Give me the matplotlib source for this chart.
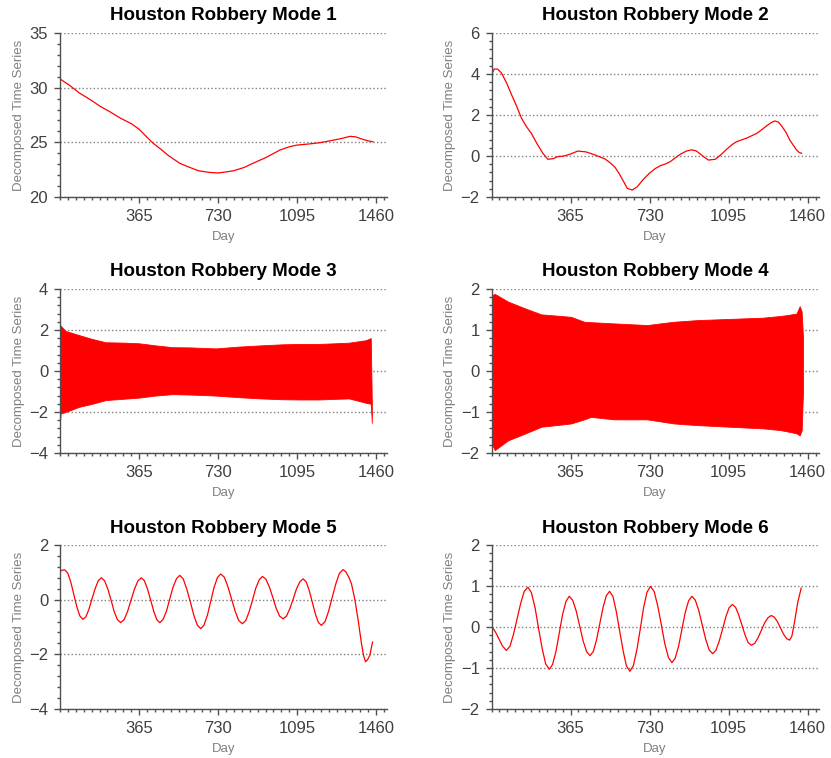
import numpy as np
import matplotlib.pyplot as plt
from matplotlib.ticker import MultipleLocator

plt.rcParams['font.family'] = ['Liberation Sans', 'DejaVu Sans']

# mode 1 - trend
days1 = [0, 45, 90, 140, 185, 230, 280, 330, 365, 400, 431, 470, 500, 554, 600, 640, 690, 730, 770, 801,
         850, 893, 950, 1016, 1060, 1095, 1150, 1201, 1250, 1300, 1340, 1365, 1394, 1420, 1445]
vals1 = [30.8, 30.2, 29.5, 28.9, 28.3, 27.8, 27.2, 26.7, 26.2, 25.5, 24.9, 24.3, 23.8, 23.07, 22.7, 22.4,
         22.25, 22.2, 22.3, 22.4, 22.7, 23.1, 23.6, 24.3, 24.6, 24.75, 24.85, 24.97, 25.15, 25.35, 25.55,
         25.5, 25.3, 25.15, 25.05]

# mode 2
days2 = [0, 12, 28, 46, 70, 92, 115, 138, 160, 184, 210, 237, 260, 285, 306, 335, 363, 398, 436, 470, 497,
         525, 551, 570, 589, 610, 627, 650, 673, 700, 728, 755, 780, 805, 826, 850, 872, 900, 923, 945, 964,
         985, 1002, 1033, 1060, 1086, 1110, 1132, 1180, 1224, 1250, 1270, 1290, 1308, 1325, 1339, 1360,
         1377, 1395, 1408, 1420, 1431]
vals2 = [3.96, 4.24, 4.24, 4.05, 3.55, 3.0, 2.45, 1.85, 1.45, 1.1, 0.6, 0.13, -0.16, -0.13, -0.03, 0.0,
         0.09, 0.24, 0.2, 0.08, -0.03, -0.15, -0.36, -0.55, -0.85, -1.25, -1.58, -1.66, -1.5, -1.15, -0.85,
         -0.62, -0.47, -0.38, -0.27, -0.08, 0.09, 0.24, 0.3, 0.25, 0.1, -0.08, -0.2, -0.16, 0.07, 0.33, 0.55,
         0.7, 0.88, 1.1, 1.3, 1.47, 1.62, 1.71, 1.65, 1.47, 1.15, 0.78, 0.5, 0.3, 0.18, 0.13]

# modes 3 and 4 oscillate every couple of days, keep their upper / lower envelopes
days3 = [0, 3, 26, 88, 149, 211, 300, 365, 440, 519, 600, 719, 827, 930, 1027, 1110, 1197, 1270, 1335,
         1412, 1435, 1440]
hi3 = [2.24, 2.2, 1.95, 1.75, 1.56, 1.4, 1.38, 1.35, 1.25, 1.16, 1.15, 1.1, 1.19, 1.25, 1.3, 1.32, 1.32,
       1.35, 1.38, 1.5, 1.6, -1.6]
lo3 = [-2.5, -2.07, -2.0, -1.75, -1.6, -1.42, -1.35, -1.3, -1.2, -1.13, -1.15, -1.2, -1.28, -1.34, -1.38,
       -1.39, -1.39, -1.36, -1.34, -1.55, -1.6, -2.53]

days4 = [0, 3, 15, 77, 153, 230, 300, 367, 428, 459, 566, 719, 842, 949, 1102, 1255, 1331, 1362, 1408,
         1423, 1432, 1438]
hi4 = [1.3, 1.85, 1.88, 1.69, 1.53, 1.38, 1.35, 1.32, 1.2, 1.19, 1.16, 1.12, 1.2, 1.24, 1.27, 1.3, 1.34,
       1.36, 1.4, 1.58, 1.45, 0.85]
lo4 = [-0.5, -1.8, -1.93, -1.69, -1.53, -1.36, -1.32, -1.28, -1.18, -1.12, -1.18, -1.18, -1.28, -1.32,
       -1.36, -1.4, -1.44, -1.47, -1.52, -1.57, -1.45, -0.55]

# mode 5
days5 = [0, 10, 22, 36, 50, 64, 78, 92, 106, 120, 134, 148, 163, 177, 191, 206, 221, 236, 250, 265, 280,
         296, 312, 328, 344, 360, 376, 390, 404, 419, 433, 447, 461, 476, 492, 507, 522, 538, 553, 569, 585,
         602, 618, 634, 650, 665, 681, 696, 711, 727, 742, 759, 775, 792, 809, 825, 842, 858, 873, 889, 904,
         920, 935, 951, 967, 983, 998, 1014, 1030, 1046, 1061, 1077, 1092, 1108, 1123, 1137, 1151, 1165,
         1179, 1193, 1207, 1224, 1240, 1257, 1274, 1290, 1307, 1320, 1335, 1346, 1361, 1377, 1392, 1402,
         1411, 1420, 1431, 1443]
vals5 = [1.03, 1.08, 1.09, 0.97, 0.64, 0.185, -0.27, -0.6, -0.72, -0.62, -0.34, 0.04, 0.42, 0.7, 0.8,
         0.69, 0.39, -0.02, -0.43, -0.73, -0.84, -0.73, -0.43, -0.02, 0.39, 0.69, 0.8, 0.69, 0.39, -0.02,
         -0.43, -0.73, -0.84, -0.72, -0.41, 0.03, 0.46, 0.77, 0.89, 0.76, 0.4, -0.085, -0.57, -0.93, -1.06,
         -0.93, -0.56, -0.06, 0.44, 0.81, 0.94, 0.82, 0.485, 0.03, -0.425, -0.76, -0.88, -0.76, -0.45,
         -0.015, 0.42, 0.73, 0.85, 0.75, 0.46, 0.075, -0.31, -0.6, -0.7, -0.6, -0.335, 0.03, 0.395, 0.66,
         0.76, 0.65, 0.335, -0.09, -0.515, -0.83, -0.94, -0.8, -0.43, 0.08, 0.59, 0.96, 1.1, 1.02, 0.8,
         0.58, 0.03, -0.76, -1.6, -2.05, -2.27, -2.2, -2.03, -1.55]

# mode 6
days6 = [0, 11, 22, 35, 50, 68, 85, 101, 118, 135, 151, 168, 184, 201, 217, 234, 250, 267, 282, 298, 313,
         328, 344, 359, 375, 391, 407, 423, 439, 455, 470, 485, 500, 515, 530, 545, 561, 576, 592, 608, 623,
         639, 655, 671, 687, 702, 718, 734, 751, 767, 784, 800, 817, 833, 848, 864, 879, 894, 910, 925, 941,
         957, 973, 989, 1005, 1021, 1036, 1051, 1067, 1082, 1097, 1112, 1127, 1141, 1156, 1171, 1185, 1200,
         1215, 1231, 1246, 1261, 1277, 1292, 1306, 1320, 1334, 1348, 1362, 1376, 1387, 1399, 1414, 1430]
vals6 = [0.0, -0.06, -0.16, -0.3, -0.46, -0.57, -0.47, -0.185, 0.2, 0.585, 0.87, 0.97, 0.84, 0.47, -0.03,
         -0.53, -0.9, -1.03, -0.91, -0.585, -0.14, 0.305, 0.63, 0.75, 0.65, 0.39, 0.025, -0.34, -0.6, -0.7,
         -0.595, -0.31, 0.085, 0.48, 0.765, 0.87, 0.74, 0.38, -0.105, -0.59, -0.95, -1.08, -0.94, -0.56,
         -0.045, 0.47, 0.85, 0.99, 0.865, 0.525, 0.06, -0.405, -0.745, -0.87, -0.76, -0.465, -0.06, 0.345,
         0.64, 0.75, 0.655, 0.4, 0.05, -0.3, -0.56, -0.65, -0.57, -0.35, -0.05, 0.25, 0.47, 0.55, 0.48, 0.3,
         0.05, -0.2, -0.38, -0.445, -0.4, -0.26, -0.08, 0.1, 0.23, 0.28, 0.24, 0.13, -0.02, -0.17, -0.28,
         -0.32, -0.22, 0.12, 0.6, 0.95]

titles = ['Houston Robbery Mode %d' % i for i in range(1, 7)]
ylims = [(20, 35), (-2, 6), (-4, 4), (-2, 2), (-4, 2), (-2, 2)]
ysteps = [5, 2, 2, 1, 2, 1]
xticks = [365, 730, 1095, 1460]

fig = plt.figure(figsize=(8.31, 7.58), dpi=100)
lefts = [0.0722, 0.5915]
bottoms = [0.7401, 0.4024, 0.0646]
w = 0.3935
h = 0.2164

axes = []
for i in range(6):
    ax = fig.add_axes([lefts[i % 2], bottoms[i // 2], w, h])
    axes.append(ax)

axes[0].plot(days1, vals1, color='red', lw=0.9)
axes[1].plot(days2, vals2, color='red', lw=0.9)
axes[2].fill_between(days3, lo3, hi3, color='red', lw=0.6, edgecolor='red')
axes[3].fill_between(days4, lo4, hi4, color='red', lw=0.6, edgecolor='red')
axes[4].plot(days5, vals5, color='red', lw=0.9)
axes[5].plot(days6, vals6, color='red', lw=0.9)

for i, ax in enumerate(axes):
    ax.set_xlim(0, 1510)
    ax.set_ylim(*ylims[i])
    ax.set_xticks(xticks)
    ax.xaxis.set_minor_locator(MultipleLocator(36.5))
    ax.yaxis.set_major_locator(MultipleLocator(ysteps[i]))
    ax.yaxis.set_minor_locator(MultipleLocator(ysteps[i] / 5))
    ax.spines['top'].set_visible(False)
    ax.spines['right'].set_visible(False)
    for s in ['left', 'bottom']:
        ax.spines[s].set_color('#505050')
        ax.spines[s].set_linewidth(1)
    ax.tick_params(which='major', length=4.5, width=1, color='#505050',
                   labelsize=12, labelcolor='#404040', pad=4)
    ax.tick_params(which='minor', length=2.5, width=1, color='#505050')
    ax.grid(True, axis='y', which='major', ls=':', color='#808080', lw=1)
    ax.set_axisbelow(True)
    ax.set_title(titles[i], fontsize=13.5, fontweight='bold', pad=9)
    ax.set_xlabel('Day', fontsize=9.5, color='#808080', labelpad=5)
    ax.set_ylabel('Decomposed Time Series', fontsize=9.5, color='#808080', labelpad=3)

plt.savefig('out.png', dpi=100)
